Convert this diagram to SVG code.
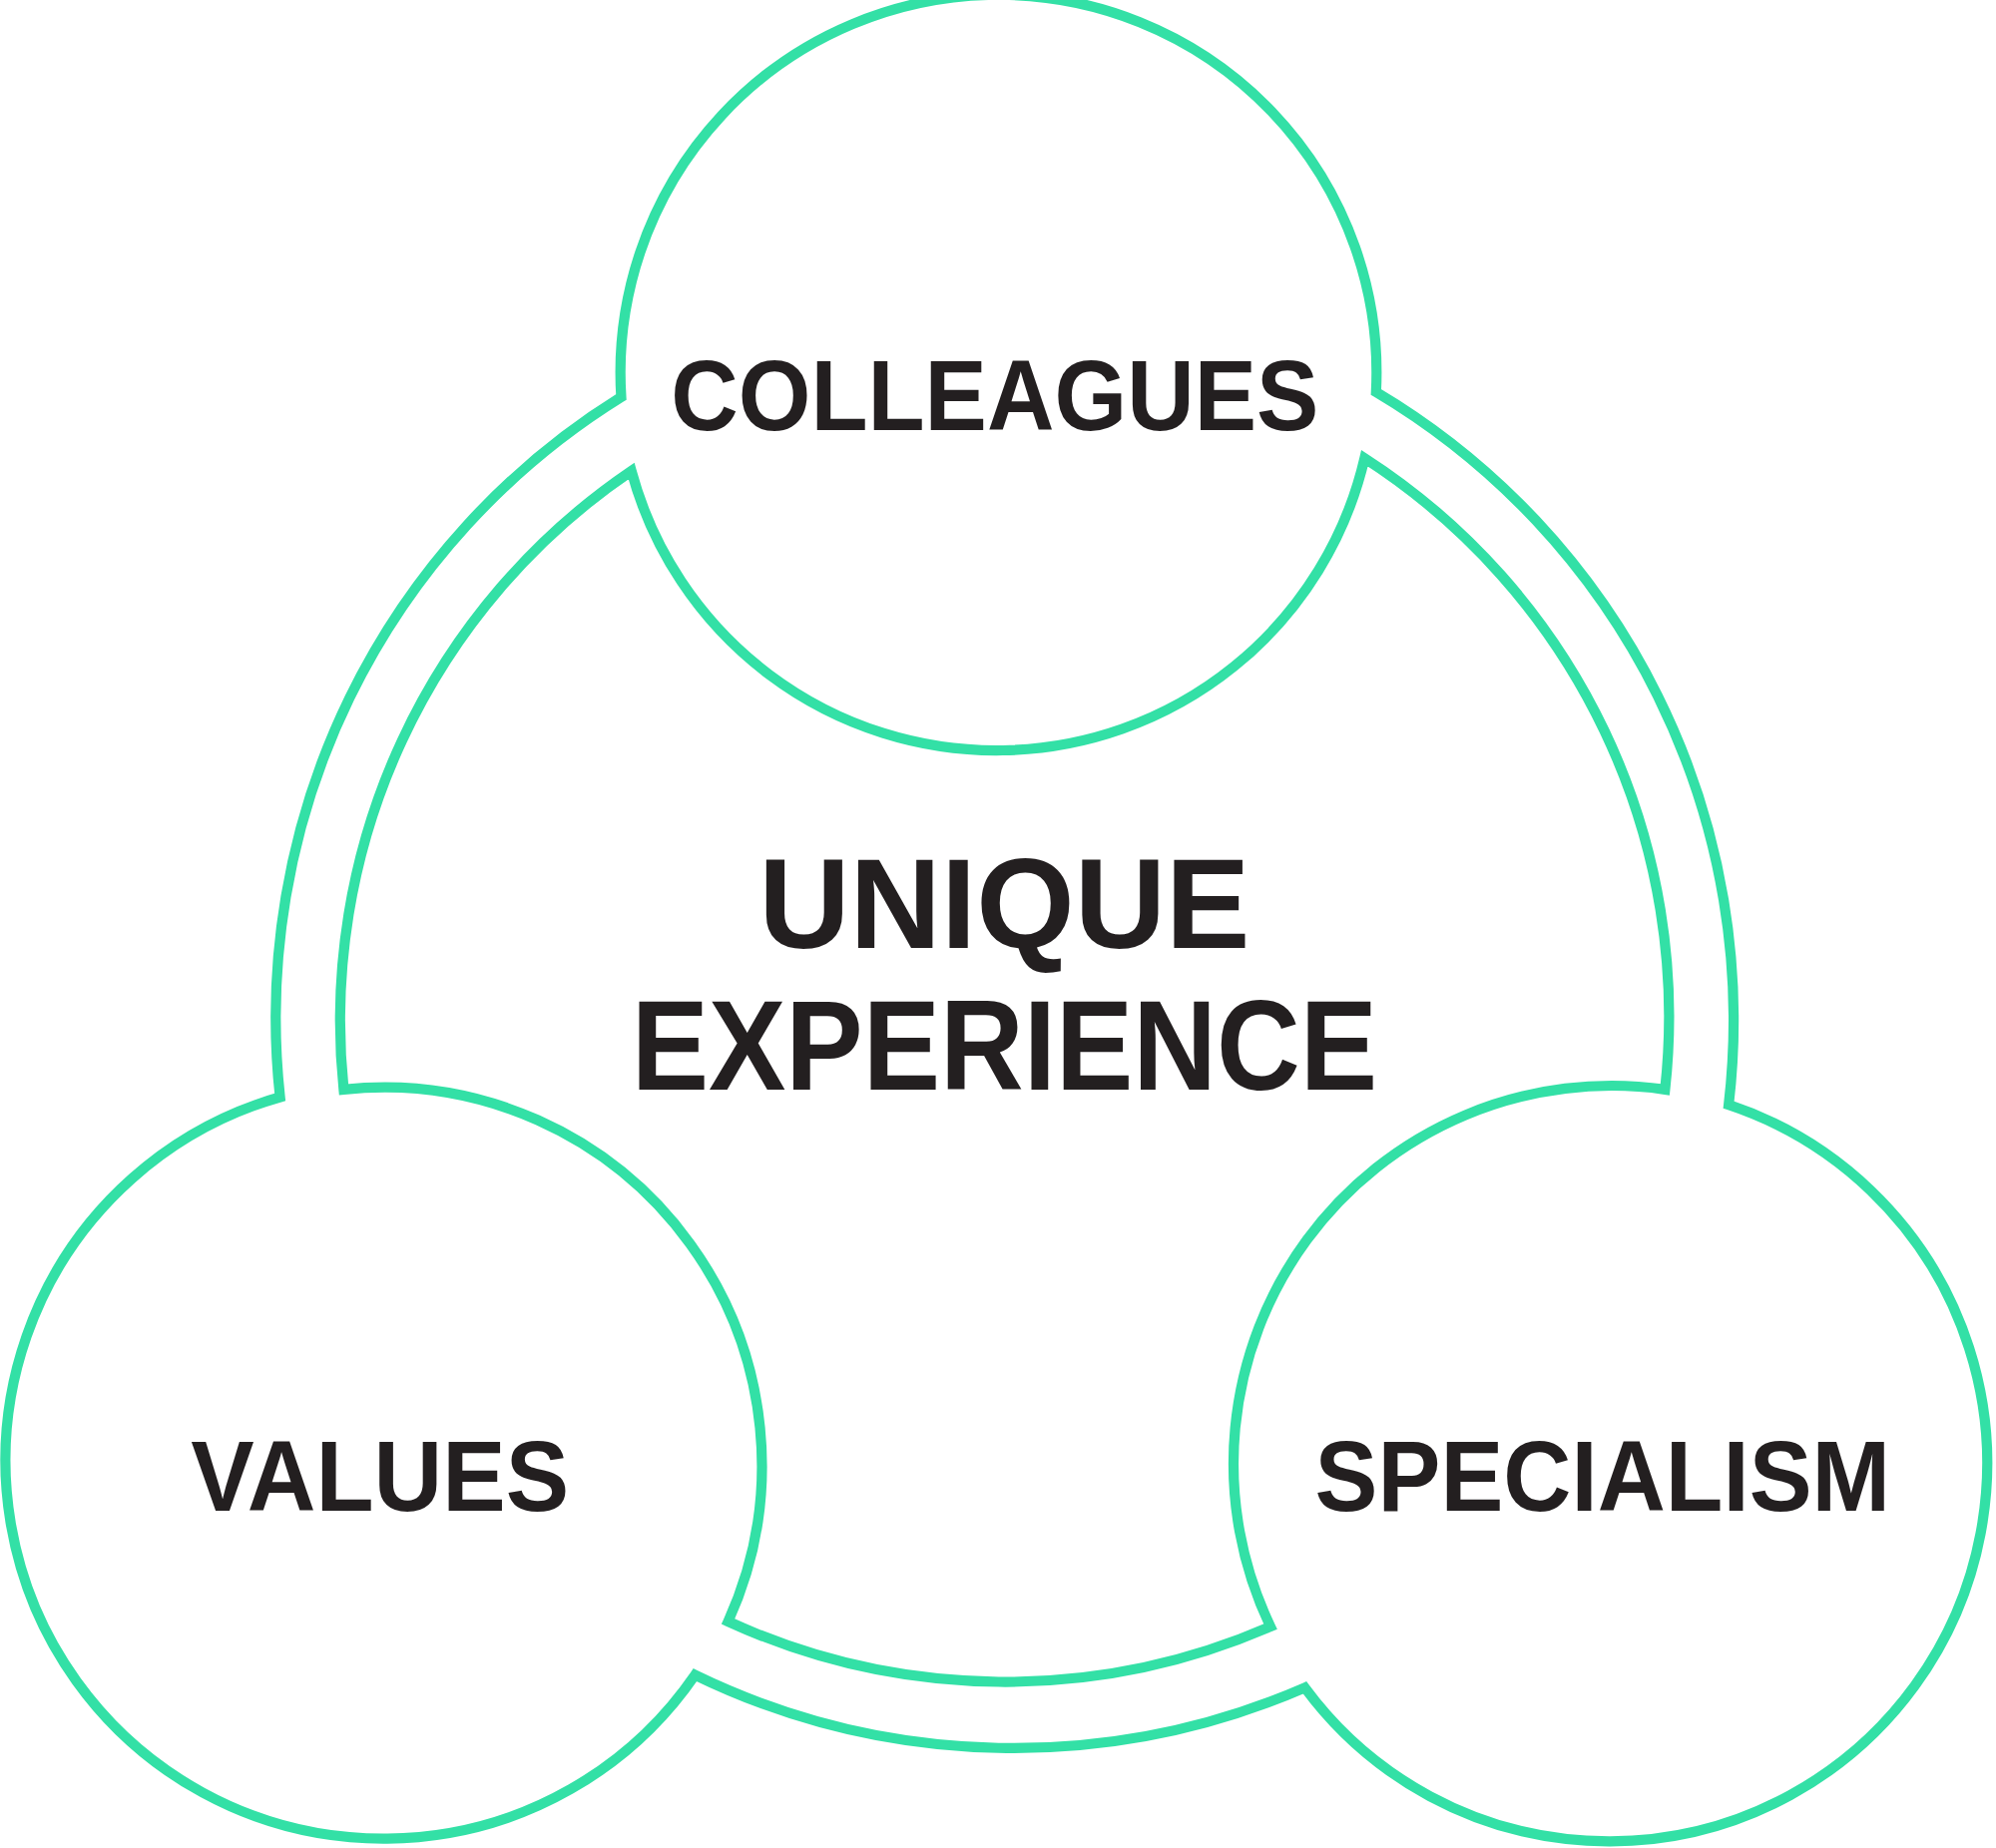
<svg xmlns="http://www.w3.org/2000/svg" width="2000" height="1852" viewBox="0 0 2000 1852">
<style>
.ring{fill:none;stroke:#33e0a6;stroke-width:8}
.t{font-family:"Liberation Sans",Arial,sans-serif;font-weight:bold;fill:#231f20;text-anchor:start}
</style>
<rect width="2000" height="1852" fill="#fff"/>
<g transform="scale(1.27551)">
<g id="connectors">
<path class="ring" d="M488,312 A297,297 0 1 1 1081,308 A574,574 0 0 1 1358,868 A297,297 0 1 1 1025,1326 A574,574 0 0 1 546,1316 A297,297 0 1 1 220,862 A574,574 0 0 1 488,312 Z"/>
<path class="ring" d="M496,370 A297,297 0 0 0 1072,360 A522,522 0 0 1 1308,856 A297,297 0 0 0 998,1278 A522,522 0 0 1 572,1274 A297,297 0 0 0 270,856 A522,522 0 0 1 496,370 Z"/>
</g>
<g id="colleagues"><text class="t" x="527" y="338" font-size="78" textLength="509" lengthAdjust="spacingAndGlyphs">COLLEAGUES</text></g>
<g id="center">
<text class="t" x="596" y="745" font-size="101" textLength="386" lengthAdjust="spacingAndGlyphs">UNIQUE</text>
<text class="t" x="496" y="856" font-size="101" textLength="586" lengthAdjust="spacingAndGlyphs">EXPERIENCE</text>
</g>
<g id="values"><text class="t" x="150" y="1187" font-size="78" textLength="297" lengthAdjust="spacingAndGlyphs">VALUES</text></g>
<g id="specialism"><text class="t" x="1033" y="1187" font-size="78" textLength="452" lengthAdjust="spacingAndGlyphs">SPECIALISM</text></g>
</g>
</svg>
